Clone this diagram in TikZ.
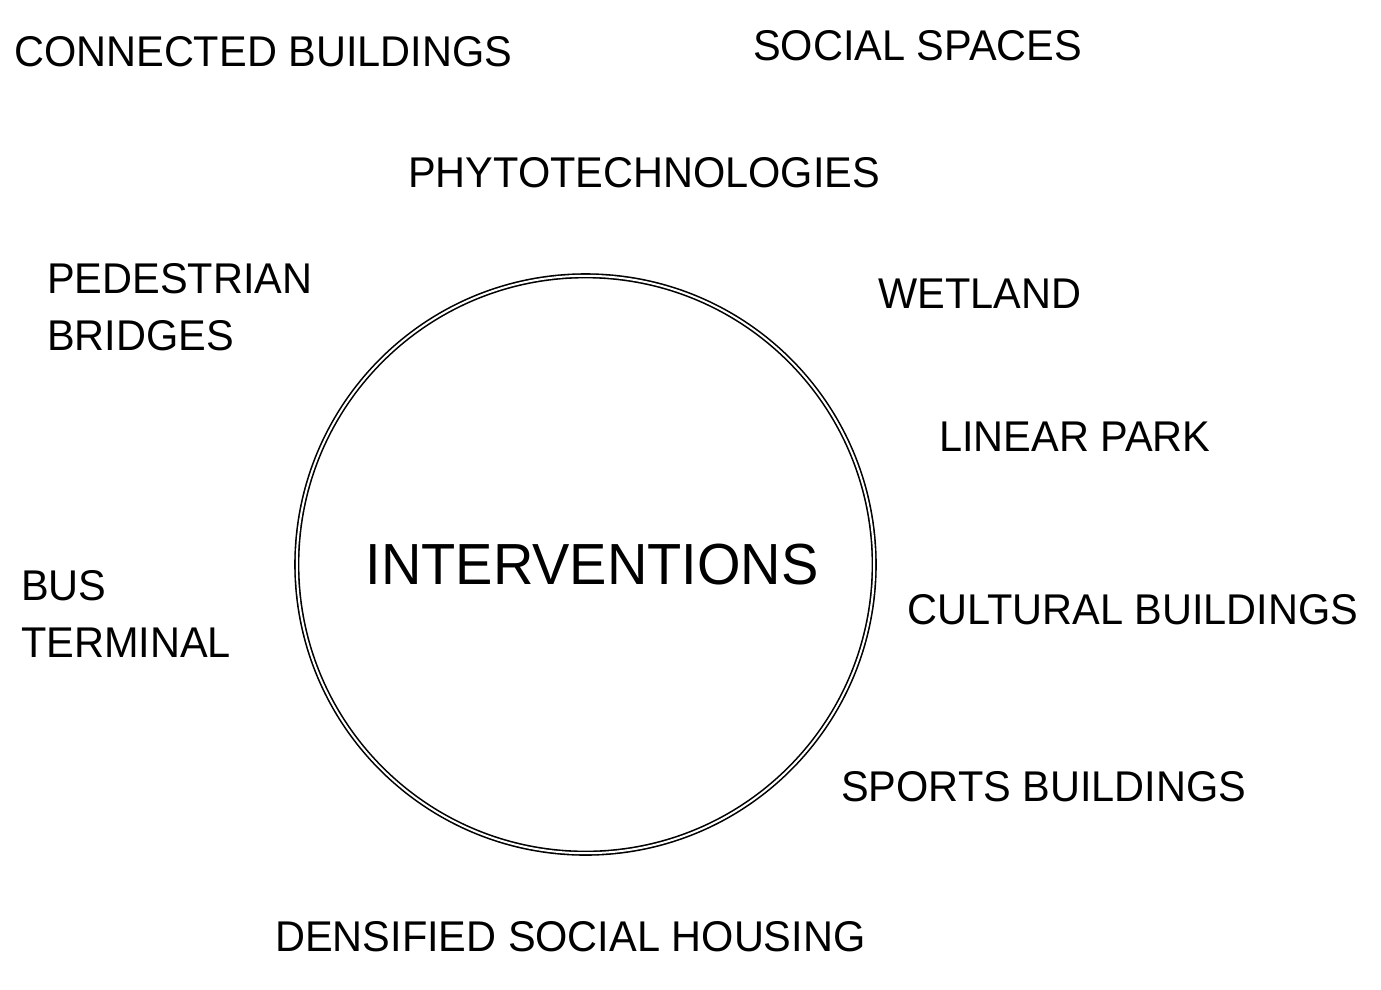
\documentclass[tikz,border=0pt]{standalone}
\usepackage{fontspec}
\setmainfont{Liberation Sans}[FakeStretch=0.965]
\begin{document}
\begin{tikzpicture}[x=1pt,y=-1pt,
  lbl/.style={anchor=base west, inner sep=0pt, align=left,
    font=\fontsize{43}{57}\selectfont},
  big/.style={anchor=base, inner sep=0pt, font=\fontsize{58}{70}\selectfont},
  ring/.style={circle, draw, double, double distance=2pt, line width=1.6pt,
    minimum size=577.4pt, inner sep=0pt}]
\useasboundingbox (0,0) rectangle (1381,989);
\node[ring] (c) at (585.5,564.5) {};
\node[big] (iv) at (592,584) {INTERVENTIONS};
\node[lbl] (cb) at (14,66) {CONNECTED BUILDINGS};
\node[lbl] (ss) at (753,60) {SOCIAL SPACES};
\node[lbl] (ph) at (408,187) {PHYTOTECHNOLOGIES};
\node[lbl] (pb) at (47,350) {PEDESTRIAN\\BRIDGES};
\node[lbl] (we) at (878,308) {WETLAND};
\node[lbl] (lp) at (939,451) {LINEAR PARK};
\node[lbl] (bt) at (21,657) {BUS\\TERMINAL};
\node[lbl] (cu) at (907,624) {CULTURAL BUILDINGS};
\node[lbl] (sp) at (841,801) {SPORTS BUILDINGS};
\node[lbl] (dh) at (275,951) {DENSIFIED SOCIAL HOUSING};
\end{tikzpicture}
\end{document}
